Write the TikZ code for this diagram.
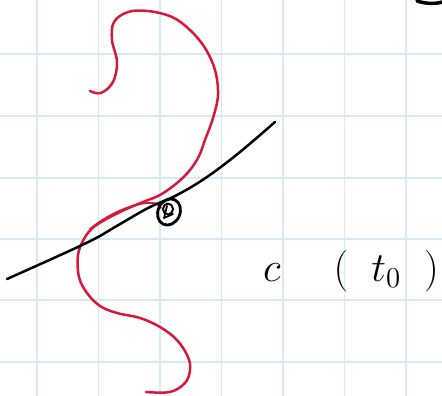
\documentclass[tikz,border=0pt]{standalone}
\usetikzlibrary{calc, shapes.geometric}
\definecolor{gridblue}{RGB}{214,234,243}
\definecolor{curvered}{RGB}{214,24,58}
\begin{document}
\begin{tikzpicture}[x=1pt, y=-1pt, line cap=round, line join=round]
\useasboundingbox (0,0) rectangle (442,396);
\foreach \x in {37,98.5,160,221.5,283,344.5,406} \draw[gridblue, line width=1.1pt] (\x,0)--(\x,396);
\foreach \y in {54,116,178,239,300,362} \draw[gridblue, line width=1.1pt] (0,\y)--(442,\y);
\draw[curvered, line width=2.5pt] plot[smooth, tension=0.6] coordinates {(90,91) (101,93) (113,82) (117,62) (112,40) (114,22) (128,12) (148,11) (172,17) (190,30) (205,48) (215,70) (218,95) (213,118) (205,140) (199,156) (190,170) (177,183) (160,195) (143,202) (120,212) (95,226) (84,239) (78,255) (79,277) (87,293) (100,306) (117,313) (140,318) (160,327) (177,340) (188,357) (190,370) (185,383) (170,392) (146,392)};
\draw[curvered, line width=1.8pt] (90,229) .. controls (108,214) and (135,202) .. (152,203) .. controls (157,203) and (159,205) .. (161,208);
\draw[line width=2.5pt] plot[smooth, tension=0.6] coordinates {(7,279) (45,262) (80,246) (100,236) (110,230) (127,220) (150,207) (177,195) (207,177) (240,152) (275,122)};
\node (pt) at (169,212) [draw, line width=2.8pt, ellipse, minimum width=22pt, minimum height=27pt, inner sep=0pt, rotate=-25] {};
\draw[line width=2pt] (pt.center) ++(-1,-3) circle [x radius=5pt, y radius=5.5pt];
\draw[line width=1.8pt] (167,206) -- (164,218) -- (173,214);
\draw[line width=3.5pt] (417,1) .. controls (426,4) and (436,4) .. (442,2);
\node (lbl) at (351,271) [scale=2, font=\huge] {$c\quad\;(\;\;t_0\;\;)$};
\end{tikzpicture}
\end{document}
